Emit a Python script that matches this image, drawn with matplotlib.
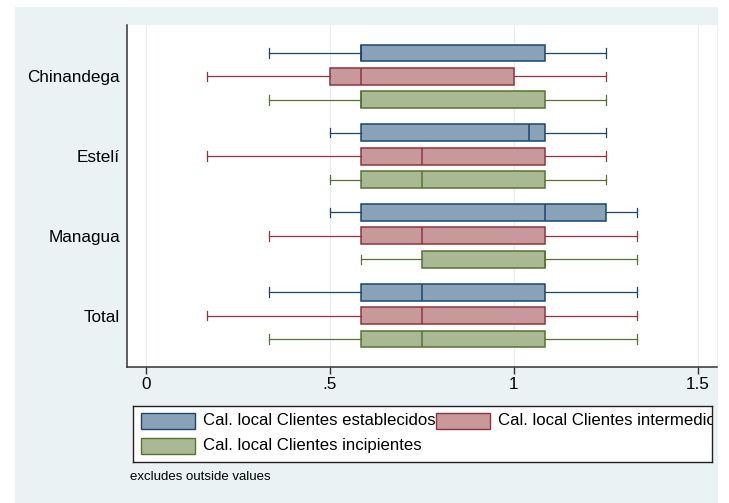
import matplotlib
matplotlib.use("Agg")
import matplotlib.pyplot as plt
from matplotlib.patches import Rectangle

plt.rcParams['font.family'] = ['Liberation Sans', 'DejaVu Sans']

# datos (estadisticos de cada caja)
grupos = ['Chinandega', 'Estelí', 'Managua', 'Total']
series = ['Cal. local Clientes establecidos', 'Cal. local Clientes intermedio',
          'Cal. local Clientes incipientes']
# [bigote inferior, q1, mediana, q3, bigote superior] por grupo
establecidos = [[0.333, 0.583, 0.583, 1.083, 1.25],
                [0.5, 0.583, 1.042, 1.083, 1.25],
                [0.5, 0.583, 1.083, 1.25, 1.333],
                [0.333, 0.583, 0.75, 1.083, 1.333]]
intermedio = [[0.167, 0.5, 0.583, 1.0, 1.25],
              [0.167, 0.583, 0.75, 1.083, 1.25],
              [0.333, 0.583, 0.75, 1.083, 1.333],
              [0.167, 0.583, 0.75, 1.083, 1.333]]
incipientes = [[0.333, 0.583, 0.583, 1.083, 1.25],
               [0.5, 0.583, 0.75, 1.083, 1.25],
               [0.583, 0.75, 1.083, 1.083, 1.333],
               [0.333, 0.583, 0.75, 1.083, 1.333]]
xticks = [0, 0.5, 1, 1.5]
xticklabels = ['0', '.5', '1', '1.5']

edge_cols = ['#1a476f', '#90353b', '#55752f']
fill_cols = ['#8aa2b8', '#c8989a', '#a9b994']

W, H = 729, 503
fig = plt.figure(figsize=(W / 100, H / 100), dpi=100)
fig.patch.set_facecolor('white')
# region del grafico (fondo celeste)
fig.patches.append(Rectangle((15 / W, 0), (718 - 15) / W, 1 - 7 / H,
                             transform=fig.transFigure, facecolor='#eaf2f3',
                             edgecolor='none', zorder=-10))

ax = fig.add_axes([127 / W, 1 - 367 / H, 590 / W, 342 / H])
ax.set_facecolor('white')

gap = 3.4
for s, datos in enumerate([establecidos, intermedio, incipientes]):
    stats = []
    pos = []
    for g, d in enumerate(datos):
        stats.append({'whislo': d[0], 'q1': d[1], 'med': d[2], 'q3': d[3],
                      'whishi': d[4], 'fliers': []})
        pos.append(g * gap + s)
    ax.bxp(stats, positions=pos, widths=0.72, capwidths=0.4,
           orientation='horizontal', patch_artist=True, showfliers=False,
           boxprops=dict(facecolor=fill_cols[s], edgecolor=edge_cols[s], linewidth=1.1),
           medianprops=dict(color=edge_cols[s], linewidth=1.1),
           whiskerprops=dict(color=edge_cols[s], linewidth=0.9),
           capprops=dict(color=edge_cols[s], linewidth=0.9), zorder=3)

ax.set_xlim(-19 / 368, 1.5 + 19 / 368)
ax.set_ylim(3 * gap + 2 + 1.195, -1.195)
ax.set_xticks(xticks)
ax.set_xticklabels(xticklabels, fontsize=12.3)
ax.set_yticks([g * gap + 1 for g in range(len(grupos))])
ax.set_yticklabels(grupos, fontsize=12.3)
ax.tick_params(axis='y', length=0, pad=5)
ax.tick_params(axis='x', length=5, width=1, pad=2, color='#333333')
ax.grid(axis='x', color='#e6eef0', linewidth=0.9, zorder=0)
ax.set_axisbelow(True)
for lado in ['top', 'right']:
    ax.spines[lado].set_visible(False)
for lado in ['left', 'bottom']:
    ax.spines[lado].set_color('#333333')
    ax.spines[lado].set_linewidth(1.1)

# leyenda (recortada como en el original)
lax = fig.add_axes([133 / W, 1 - 462 / H, (712 - 133) / W, (462 - 406) / H])
lax.set_xlim(133, 712)
lax.set_ylim(462, 406)
lax.set_xticks([])
lax.set_yticks([])
lax.set_facecolor('white')
for sp in lax.spines.values():
    sp.set_color('#222222')
    sp.set_linewidth(1.0)
pos_ley = [(141, 421), (436, 421), (141, 446)]
for s, (px, py) in enumerate(pos_ley):
    lax.add_patch(Rectangle((px, py - 8), 54, 16, facecolor=fill_cols[s],
                            edgecolor=edge_cols[s], linewidth=1.0))
    lax.text(px + 62, py, series[s], fontsize=12.1, va='center', ha='left',
             clip_on=True)

fig.text(130 / W, 1 - 477 / H, 'excludes outside values', fontsize=9.5,
         va='center', ha='left')

fig.savefig('out.png', dpi=100)
